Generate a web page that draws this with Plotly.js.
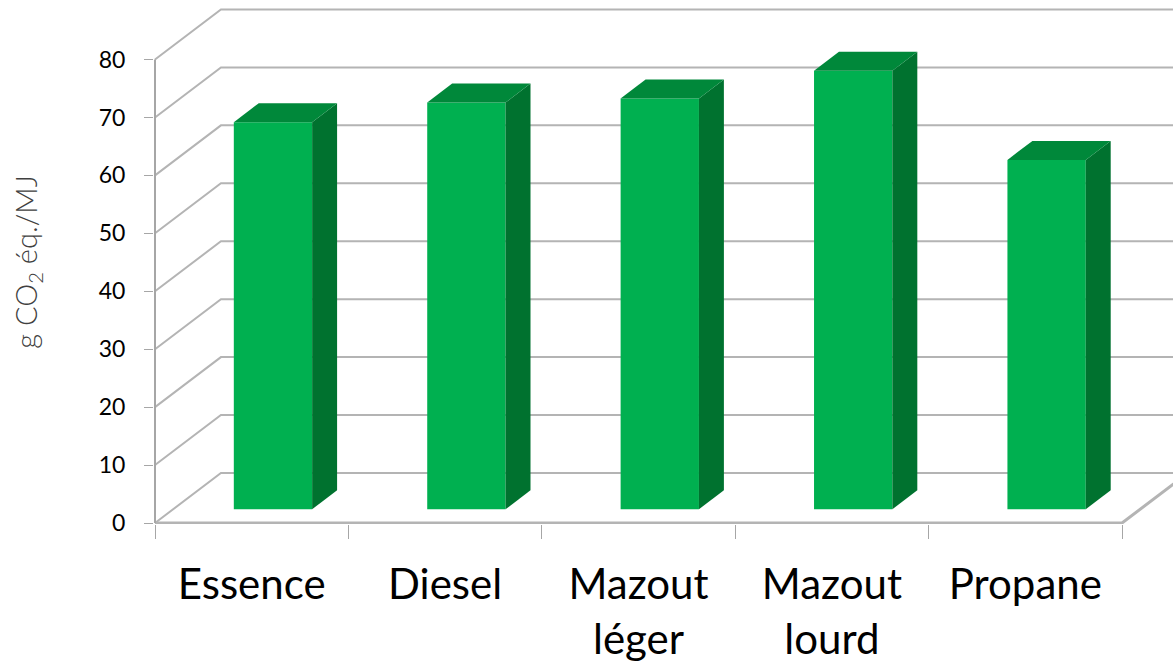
<!DOCTYPE html>
<html>
<head>
<meta charset="utf-8">
<script src="https://cdn.plot.ly/plotly-3.0.1.min.js"></script>
<style>html,body{margin:0;padding:0;background:#fff;}#chart{width:1173px;height:666px;}</style>
</head>
<body>
<div id="chart"></div>
<script>
// ---- data ----
const categories = ['Essence', 'Diesel', 'Mazout<br>léger', 'Mazout<br>lourd', 'Propane'];
const values = [66.8, 70.2, 70.9, 75.7, 60.3];
const yTicks = [0, 10, 20, 30, 40, 50, 60, 70, 80];
const yTitle = 'g CO<sub>2</sub> éq./MJ';

// ---- 3D projection styling (oblique offsets, in axis units) ----
const WALL_DX = 0.341, WALL_DY = 8.63;     // full depth of the box
const FRONT_DY = 2.37;                      // bar front face sits this far back
const BAR_DX = 0.129, BAR_DY = 3.28;        // bar depth
const BAR_W = 0.405, BAR_OFF = -0.0925;     // bar front face width / left offset
const GRID = '#b4b4b4', AXIS = '#a6a6a6';
const C_FRONT = '#00b050', C_SIDE = '#00722f', C_TOP = '#00883a';

const idx = categories.map((c, i) => i);
const xMin = -0.5, xMax = categories.length - 0.5;
const yMax = yTicks[yTicks.length - 1];

const traces = [];

// back wall + left wall gridlines
const gx = [], gy = [];
yTicks.forEach(v => {
  gx.push(xMin, xMin + WALL_DX, xMax + WALL_DX + 1, null);
  gy.push(v, v + WALL_DY, v + WALL_DY, null);
});
traces.push({type: 'scatter', mode: 'lines', x: gx, y: gy, xaxis: 'x', yaxis: 'y',
  line: {color: GRID, width: 2}, hoverinfo: 'skip'});

// floor front edge and right edge
traces.push({type: 'scatter', mode: 'lines',
  x: [xMin, xMax, xMax + WALL_DX], y: [0, 0, WALL_DY], xaxis: 'x', yaxis: 'y',
  line: {color: GRID, width: 3}, hoverinfo: 'skip'});

// vertical value axis line
traces.push({type: 'scatter', mode: 'lines', x: [xMin, xMin], y: [0, yMax],
  xaxis: 'x', yaxis: 'y', line: {color: AXIS, width: 2}, hoverinfo: 'skip'});

// bar front faces
traces.push({type: 'bar', x: idx, y: values, base: idx.map(() => FRONT_DY),
  width: BAR_W, offset: BAR_OFF, xaxis: 'x2', yaxis: 'y',
  marker: {color: C_FRONT, line: {width: 0}}, hoverinfo: 'skip'});

// side and top faces
idx.forEach(i => {
  const xl = i + BAR_OFF, xr = xl + BAR_W;
  const yb = FRONT_DY, yt = FRONT_DY + values[i];
  traces.push({type: 'scatter', mode: 'lines', fill: 'toself', fillcolor: C_SIDE,
    x: [xr, xr, xr + BAR_DX, xr + BAR_DX, xr],
    y: [yb, yt, yt + BAR_DY, yb + BAR_DY, yb],
    xaxis: 'x2', yaxis: 'y', line: {width: 0, color: C_SIDE}, hoverinfo: 'skip'});
  traces.push({type: 'scatter', mode: 'lines', fill: 'toself', fillcolor: C_TOP,
    x: [xl, xr, xr + BAR_DX, xl + BAR_DX, xl],
    y: [yt, yt, yt + BAR_DY, yt + BAR_DY, yt],
    xaxis: 'x2', yaxis: 'y', line: {width: 0, color: C_TOP}, hoverinfo: 'skip'});
});

const plotLeft = 154, plotBottom = 524, pxPerX = 193.5, pxPerY = 5.794;
const xRange = [xMin - (155 - plotLeft) / pxPerX, xMax + (1173 - 1122) / pxPerX];
const yRange = [-(plotBottom - 523) / pxPerY, yMax + 59.5 / pxPerY];

const boundaries = idx.map(i => i - 0.5).concat([xMax]);

const layout = {
  width: 1173, height: 666,
  margin: {l: plotLeft, r: 0, t: 0, b: 666 - plotBottom, pad: 0},
  paper_bgcolor: '#fff', plot_bgcolor: 'rgba(0,0,0,0)',
  showlegend: false, hovermode: false,
  xaxis: {range: xRange, tickmode: 'array', tickvals: boundaries,
    ticks: 'outside', ticklen: 14, tickwidth: 1, tickcolor: AXIS, showticklabels: false,
    showgrid: false, zeroline: false, showline: false, fixedrange: true},
  xaxis2: {overlaying: 'x', anchor: 'y', side: 'bottom', range: xRange,
    tickmode: 'array', tickvals: idx, ticktext: categories, ticks: '',
    ticklabelstandoff: 32,
    tickfont: {family: 'Lato, sans-serif', size: 42, color: '#000'},
    showgrid: false, zeroline: false, showline: false, fixedrange: true},
  yaxis: {range: yRange, tickmode: 'array', tickvals: yTicks, ticks: 'outside', ticklen: 9,
    tickwidth: 1, tickcolor: AXIS, ticklabelstandoff: 14,
    tickfont: {family: 'Lato, sans-serif', size: 23, color: '#000'},
    showgrid: false, zeroline: false, showline: false, fixedrange: true,
    title: {text: yTitle, standoff: 52,
      font: {family: 'Lato, sans-serif', size: 29, weight: 300, color: '#404040'}}}
};

Plotly.newPlot('chart', traces, layout, {displayModeBar: false, staticPlot: true});
</script>
</body>
</html>
